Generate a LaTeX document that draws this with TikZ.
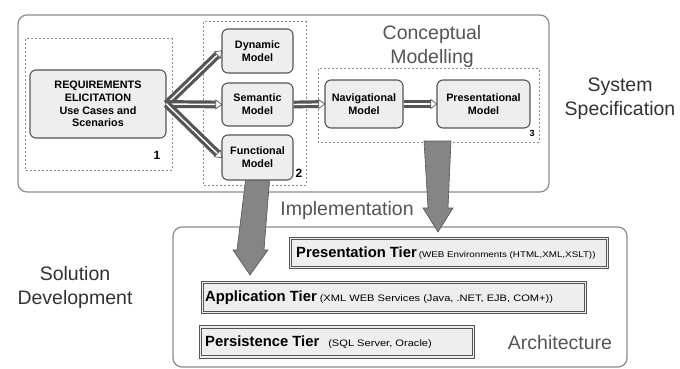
\documentclass[tikz,border=0pt]{standalone}
\usepackage{fontspec}
\setmainfont{Liberation Sans}
\usetikzlibrary{arrows.meta,positioning}
\definecolor{frame}{HTML}{8C8C8C}
\definecolor{boxline}{HTML}{555555}
\definecolor{boxfill}{HTML}{EEEEEE}
\definecolor{bigarrow}{HTML}{858585}
\definecolor{captext}{HTML}{555555}
\newcommand{\tiername}[1]{{\fontsize{14.8}{15}\selectfont\bfseries #1}}
\newcommand{\tiernote}[2]{{\fontsize{#1}{10}\selectfont\scalebox{1.18}[1]{#2}}}
\begin{document}
\begin{tikzpicture}[x=1pt,y=-1pt,
  container/.style={draw=frame,line width=1.2pt,rounded corners=9pt,fill=white},
  group/.style={draw=frame,line width=1pt,dash pattern=on 2pt off 2pt},
  modelbox/.style={draw=boxline,line width=1.1pt,rounded corners=6pt,fill=boxfill,
    align=center,font=\fontsize{10.8}{12.8}\selectfont\bfseries,inner sep=0pt},
  tierbox/.style={draw=boxline,line width=1.2pt,double=boxfill,double distance=1.2pt,fill=boxfill,
    inner sep=0pt,anchor=west},
  tiertext/.style={anchor=west,inner sep=0pt},
  caption/.style={font=\fontsize{19.5}{24}\selectfont,text=captext,align=center},
  sidecap/.style={font=\fontsize{19.5}{24}\selectfont,text=black!80,align=center},
  num/.style={font=\fontsize{12}{12}\selectfont\bfseries},
  hollow/.style={draw=boxline,line width=3.2pt,double=white,double distance=1.4pt,
    -{Triangle[open,length=7pt,width=10pt,line width=0.7pt,fill=white]},shorten >=-1pt},
  fat/.style={fill=bigarrow,draw=boxline,line width=0.6pt}
]
\useasboundingbox (0,0) rectangle (680,369);
\fill[white] (0,0) rectangle (680,369);

% outer containers
\draw[container] (18,15) rectangle (549,192);
\draw[container] (173,227) rectangle (627,367);

% dashed groups
\draw[group] (25,39) rectangle (172,170);
\draw[group] (203,22) rectangle (306,185);
\draw[group] (318,69) rectangle (539,142);

% model boxes
\node[modelbox,minimum width=136pt,minimum height=68pt] (req) at (98,104)
  {REQUIREMENTS\\ELICITATION\\Use Cases and\\Scenarios};
\node[modelbox,minimum width=71pt,minimum height=44pt] (dyn) at (257.5,51) {Dynamic\\Model};
\node[modelbox,minimum width=71pt,minimum height=43pt] (sem) at (257.5,104.5) {Semantic\\Model};
\node[modelbox,minimum width=71pt,minimum height=45pt] (fun) at (257.5,157.5) {Functional\\Model};
\node[modelbox,minimum width=78pt,minimum height=48pt] (nav) at (364,104) {Navigational\\Model};
\node[modelbox,minimum width=93pt,minimum height=48pt] (pre) at (483.5,104) {Presentational\\Model};

% group numbers
\node[num] (n1) at (157,155) {1};
\node[num] (n2) at (299,173) {2};
\node[num,font=\fontsize{9}{9}\selectfont\bfseries] (n3) at (532,133) {3};

% hollow arrows
\coordinate (fork) at (req.east);
\draw[hollow] (fork) -- (dyn.west);
\draw[hollow] (fork) -- (sem.west);
\draw[hollow] (fork) -- (fun.west);
\draw[hollow] (sem.east) -- (nav.west);
\draw[hollow] (nav.east) -- (pre.west);

% captions
\node[caption] (cm) at (432,46) {Conceptual\\Modelling};
\node[sidecap] (ss) at (620,99) {System\\Specification};
\node[caption] (impl) at (347,210) {Implementation};
\node[sidecap] (sd) at (75,287) {Solution\\Development};
\node[caption] (arch) at (560,343) {Architecture};

% tiers
\node[tierbox,minimum width=317pt,minimum height=29pt] (ptier) at (290,253) {};
\node[tiertext] (ptxt) at (296,253)
  {\tiername{Presentation Tier}\hspace{2pt}\tiernote{8.3}{(WEB Environments (HTML,XML,XSLT))}};
\node[tierbox,minimum width=383pt,minimum height=30pt] (atier) at (202,297.5) {};
\node[tiertext] (atxt) at (205,297.5)
  {\tiername{Application Tier}\hspace{3pt}\tiernote{9.4}{(XML WEB Services (Java, .NET, EJB, COM+))}};
\node[tierbox,minimum width=273pt,minimum height=30pt] (stier) at (200,342) {};
\node[tiertext] (stxt) at (205,342)
  {\tiername{Persistence Tier}\hspace{9pt}\tiernote{9.4}{(SQL Server, Oracle)}};

% implementation arrows
\coordinate (a1tip) at (250,275);
\coordinate (a2tip) at (438,232);
\draw[fat] ([xshift=-12pt]fun.south) -- ([xshift=12pt]fun.south)
  -- (264,250) -- (268,250) -- (a1tip) -- (233,250) -- (237,250) -- cycle;
\draw[fat] (424,141) -- (451,141) -- (448,208) -- (453,208) -- (a2tip)
  -- (423,208) -- (428,208) -- cycle;
\end{tikzpicture}
\end{document}
